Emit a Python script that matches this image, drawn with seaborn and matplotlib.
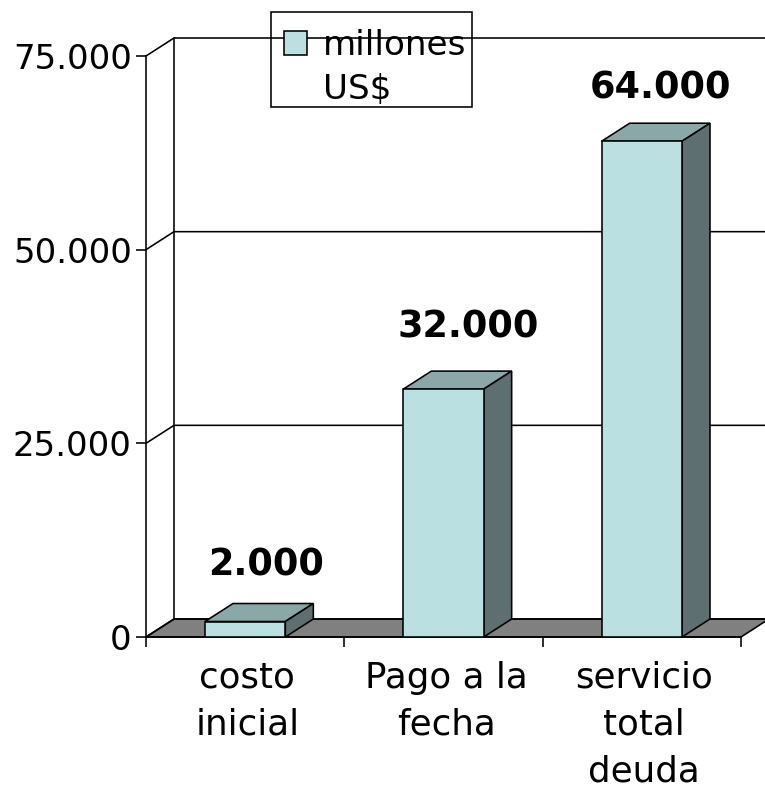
import matplotlib
matplotlib.use("Agg")
import matplotlib.pyplot as plt
from matplotlib.patches import Polygon, Rectangle
from matplotlib.lines import Line2D
import seaborn as sns
import pandas as pd

categories = ["costo\ninicial", "Pago a la\nfecha", "servicio\ntotal\ndeuda"]
values = [2000, 32000, 64000]
value_labels = ["2.000", "32.000", "64.000"]
yticks = [0, 25000, 50000, 75000]
ytick_labels = ["0", "25.000", "50.000", "75.000"]
legend_lines = ["millones", "US$"]

W, H = 765, 785
FRONT = "#BAE0E2"
TOP = "#8BA8A9"
SIDE = "#5D6F70"
FLOOR = "#808080"
LW = 1.15

sns.set_theme(style="white")
plt.rcParams["font.family"] = ["DejaVu Sans"]
fig = plt.figure(figsize=(W / 100, H / 100), dpi=100)
ax = fig.add_axes([146 / W, 1 - 637 / H, (741 - 146) / W, (637 - 56) / H])

df = pd.DataFrame({"cat": categories, "val": values})
sns.barplot(data=df, x="cat", y="val", color=FRONT, saturation=1, width=0.405,
            edgecolor="black", linewidth=LW, ax=ax, zorder=5)
ax.set_xlim(-0.5, 2.5)
ax.set_ylim(0, 75000)
ax.set_xlabel("")
ax.set_ylabel("")

px = 3 / (741 - 146)
py = 75000 / (637 - 56)
dx, dy = 28 * px, 18 * py
x0, x1 = -0.5, 2.5
ymax = 75000

# floor and walls
ax.add_patch(Polygon([(x0, 0), (x0 + dx, dy), (x1 + dx, dy), (x1, 0)], closed=True,
                     facecolor=FLOOR, edgecolor="black", lw=LW, clip_on=False, zorder=1))
ax.add_line(Line2D([x0 + dx, x0 + dx], [dy, ymax + dy], color="black", lw=LW, clip_on=False, zorder=2))
for t in yticks:
    ax.add_line(Line2D([x0, x0 + dx, x1 + dx], [t, t + dy, t + dy], color="black", lw=LW,
                       clip_on=False, zorder=2))

# bar depth
for bar in list(ax.patches):
    if not isinstance(bar, Rectangle):
        continue
    l, w, h = bar.get_x(), bar.get_width(), bar.get_height()
    if h <= 0 or l < x0:
        continue
    r = l + w
    ax.add_patch(Polygon([(l, h), (l + dx, h + dy), (r + dx, h + dy), (r, h)], closed=True,
                         facecolor=TOP, edgecolor="black", lw=LW, clip_on=False, zorder=4))
    ax.add_patch(Polygon([(r, 0), (r + dx, dy), (r + dx, h + dy), (r, h)], closed=True,
                         facecolor=SIDE, edgecolor="black", lw=LW, clip_on=False, zorder=4))

# value labels: pixel position relative to the top of each front face
label_offsets = [(21, 57), (25, 62), (19, 53)]
for i, (v, s, (ox, oy)) in enumerate(zip(values, value_labels, label_offsets)):
    ax.text(i + ox * px, v + oy * py, s, ha="center", va="center", fontsize=26.4,
            fontweight="bold", color="black", zorder=8, clip_on=False)

sns.despine(ax=ax, top=True, right=True)
for s in ("left", "bottom"):
    ax.spines[s].set_color("black")
    ax.spines[s].set_linewidth(LW)
ax.spines["left"].set_zorder(3)
ax.set_yticks(yticks, ytick_labels, fontsize=24.5, color="black")
ax.set_xticks([-0.5, 0.5, 1.5, 2.5], labels=["", "", "", ""])
ax.tick_params(axis="y", length=7.2, width=LW, color="black", pad=3, left=True)
ax.tick_params(axis="x", length=7.2, width=LW, color="black", direction="out", bottom=True)
for i, c in enumerate(categories):
    ax.annotate(c, xy=(i, 0), xycoords="data", xytext=(2.4 if i == 1 else 1.5, -17), textcoords="offset points",
                ha="center", va="top", fontsize=25.7, color="black", linespacing=1.48,
                annotation_clip=False)

# legend: the frame is see-through, so the top gridline shows inside it
handles = [Rectangle((0, 0), 1, 1, facecolor=FRONT, edgecolor="black", lw=LW),
           Rectangle((0, 0), 1, 1, facecolor="none", edgecolor="none")]
leg = ax.legend(handles=handles, labels=legend_lines, loc="upper left",
                bbox_to_anchor=((271 - 146) / 595, (637 - 16) / 581), borderaxespad=0,
                frameon=False, fontsize=24.6, handlelength=0.68, handleheight=0.68,
                handletextpad=0.47, borderpad=0.38, labelspacing=0.32, labelcolor="black")
leg.set_zorder(9)
ax.add_patch(Rectangle(((271 - 146) / 595, (637 - 107) / 581), (472 - 271) / 595, (107 - 12) / 581,
                       transform=ax.transAxes, facecolor="none", edgecolor="black", lw=LW,
                       clip_on=False, zorder=9))

fig.savefig("out.png", dpi=100)
